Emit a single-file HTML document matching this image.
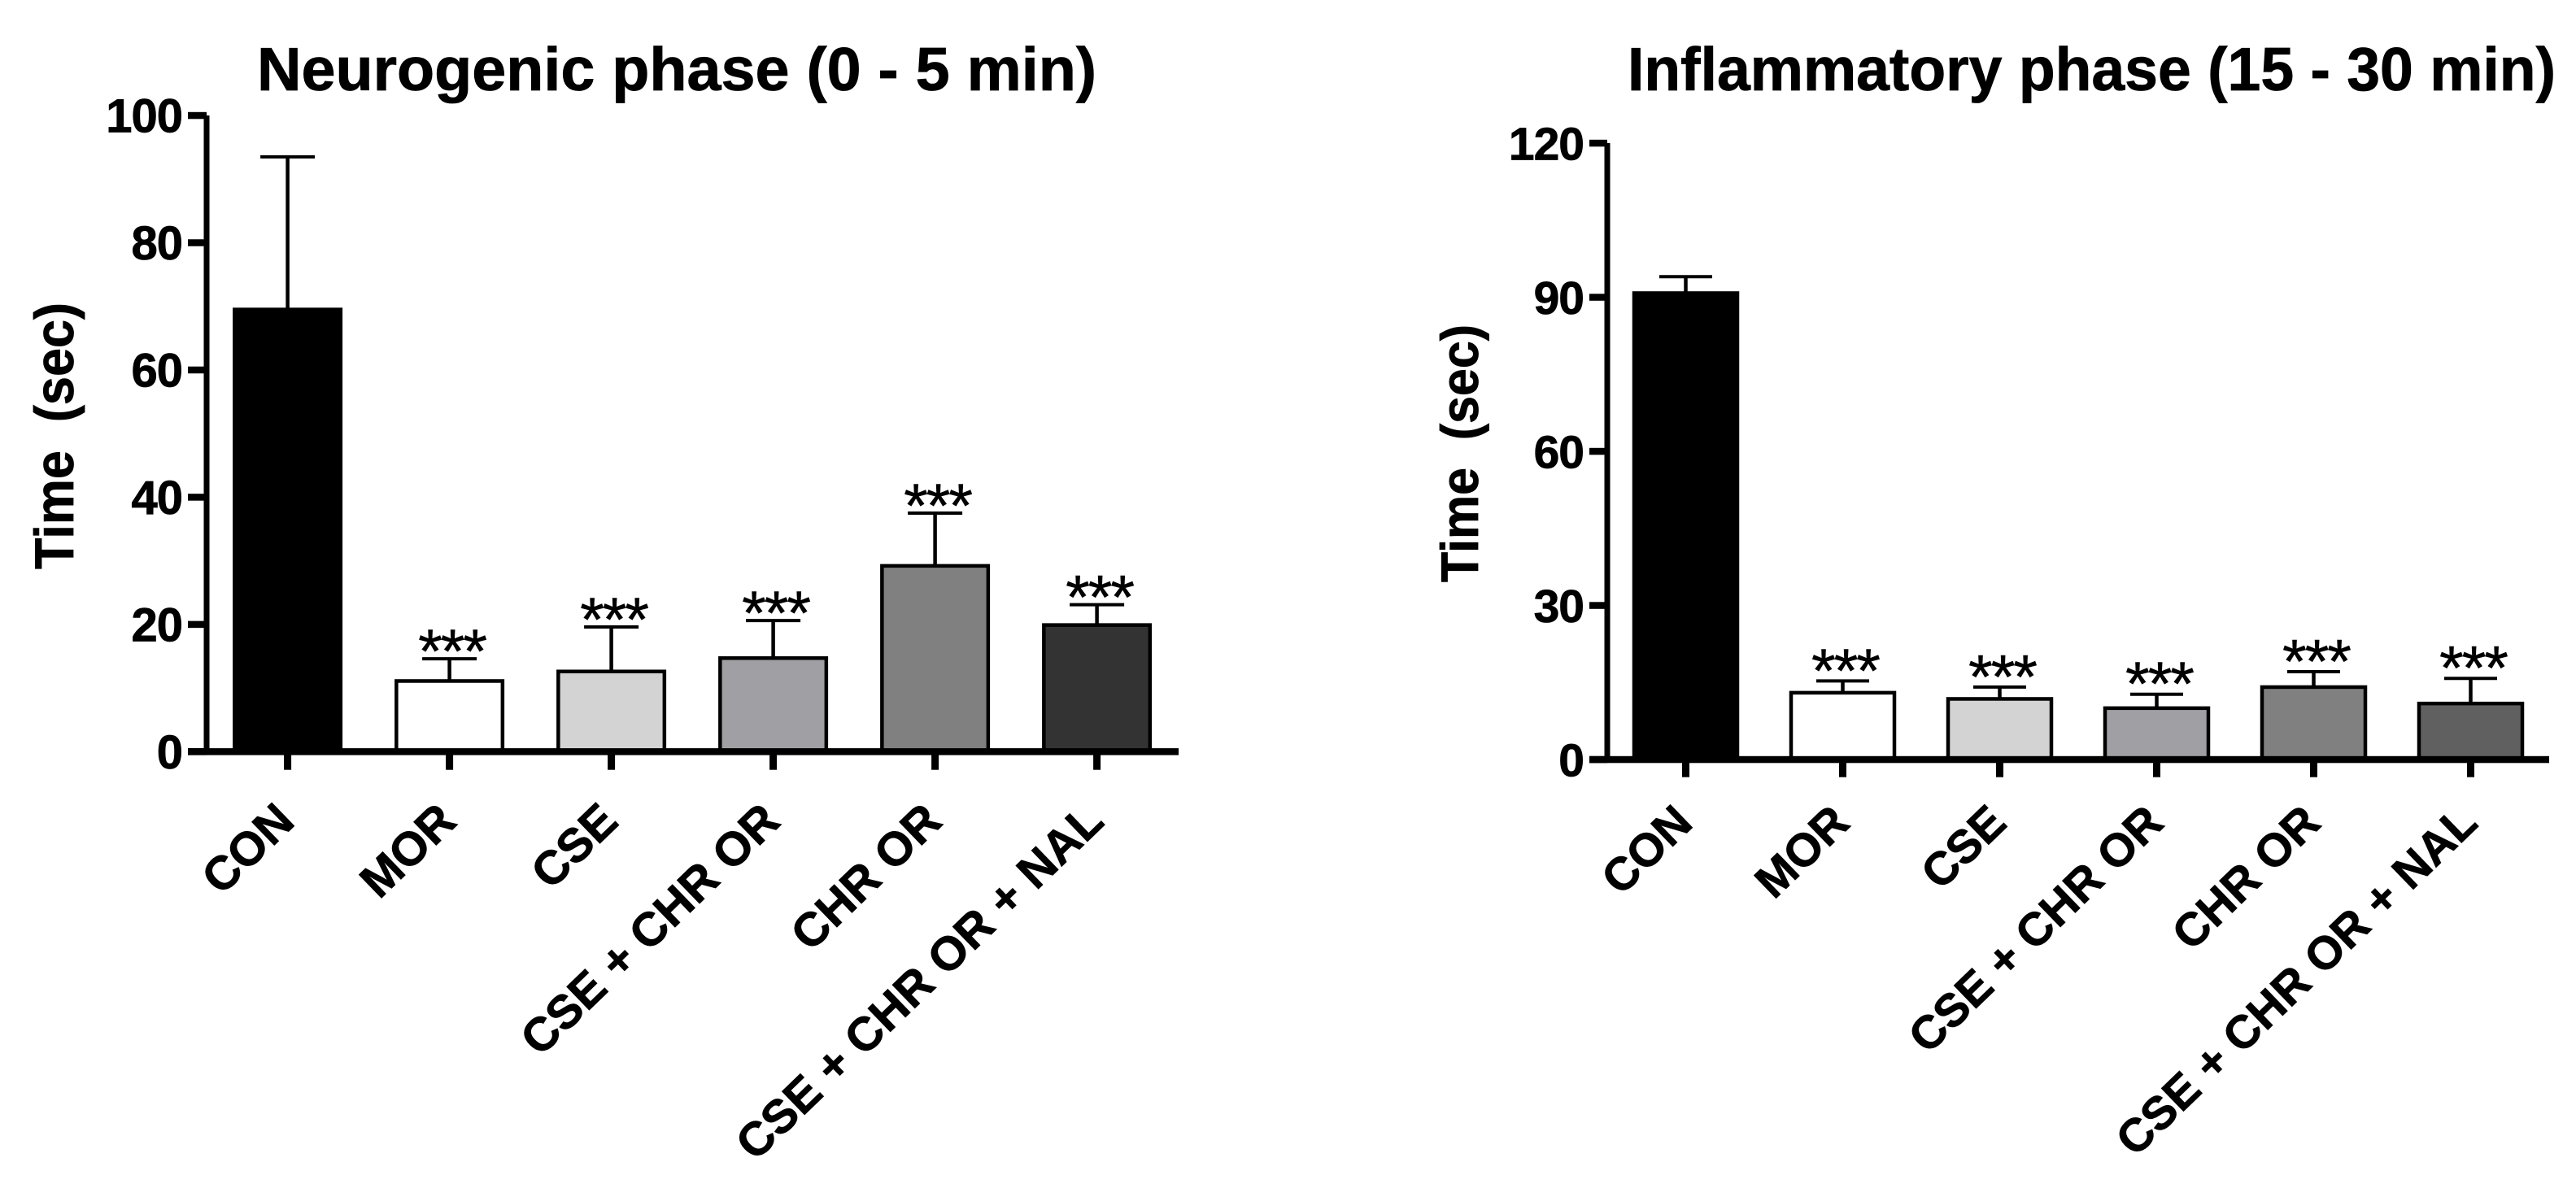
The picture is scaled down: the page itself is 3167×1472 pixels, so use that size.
<!DOCTYPE html>
<html lang="en">
<head>
<meta charset="utf-8">
<title>Neurogenic and inflammatory phase bar charts</title>
<style>
  html, body { margin: 0; padding: 0; background: #fff; }
  svg { display: block; position: absolute; left: 0; top: 0; }
  text { font-family: "Liberation Sans", Arial, sans-serif; fill: #000; white-space: pre; }
  .bold { font-weight: 700; stroke: #000; stroke-width: 0.8; }
  .stars { stroke: #000; stroke-width: 0.6; }
</style>
</head>
<body>
<svg id="figure" xmlns="http://www.w3.org/2000/svg" width="3167" height="1472" viewBox="0 0 3167 1472">
  <rect x="0" y="0" width="3167" height="1472" fill="#fff"/>
  <text class="bold" x="316" y="111" font-size="75" textLength="1032" lengthAdjust="spacingAndGlyphs">Neurogenic phase (0 - 5 min)</text>
  <text class="bold" x="2001" y="111" font-size="75" textLength="1141" lengthAdjust="spacingAndGlyphs">Inflammatory phase (15 - 30 min)</text>
  <text class="bold" font-size="68" transform="translate(90 700) rotate(-90)" textLength="328" lengthAdjust="spacingAndGlyphs">Time  (sec)</text>
  <text class="bold" font-size="65" transform="translate(1817 716) rotate(-90)" textLength="317" lengthAdjust="spacingAndGlyphs">Time  (sec)</text>
  <g id="neurogenic-chart"></g>
  <g id="inflammatory-chart"></g>
</svg>
<script>
const categories = ["CON", "MOR", "CSE", "CSE + CHR OR", "CHR OR", "CSE + CHR OR + NAL"];
const significance = ["", "***", "***", "***", "***", "***"];

const neurogenicTicks = [0, 20, 40, 60, 80, 100];
const neurogenicValues = [69.5, 11.1, 12.6, 14.7, 29.2, 19.9];
const neurogenicUpperErrors = [93.5, 14.6, 19.6, 20.6, 37.5, 23.1];
const neurogenicFills = ["#000000", "#ffffff", "#d3d3d3", "#a0a0a4", "#808080", "#333333"];

const inflammatoryTicks = [0, 30, 60, 90, 120];
const inflammatoryValues = [90.8, 13.0, 11.8, 10.0, 14.1, 10.9];
const inflammatoryUpperErrors = [94.0, 15.3, 14.1, 12.7, 17.1, 15.8];
const inflammatoryFills = ["#000000", "#ffffff", "#d3d3d3", "#a0a0a4", "#808080", "#606060"];

const SVG_NS = "http://www.w3.org/2000/svg";

function make(tag, attrs, parent) {
  const node = document.createElementNS(SVG_NS, tag);
  for (const key in attrs) node.setAttribute(key, attrs[key]);
  parent.appendChild(node);
  return node;
}

function slug(text) {
  return text.toLowerCase().replace(/[^a-z0-9]+/g, "-").replace(/^-|-$/g, "");
}

function drawChart(opts) {
  const root = document.getElementById(opts.rootId);
  const yMax = opts.ticks[opts.ticks.length - 1];
  const yScale = function (v) { return opts.y0 + (opts.yTop - opts.y0) * (v / yMax); };
  const xScale = function (i) { return opts.x0 + i * opts.step; };
  const prefix = opts.prefix;

  opts.values.forEach(function (value, i) {
    const cx = xScale(i);
    const top = yScale(value);
    const capY = yScale(opts.errors[i]);
    const key = slug(categories[i]);

    const whisker = make("line", { x1: cx, x2: cx, y1: top, y2: capY, stroke: "#000", "stroke-width": 4.5 }, root);
    
    

    const cap = make("line", { x1: cx - opts.capW / 2, x2: cx + opts.capW / 2, y1: capY, y2: capY, stroke: "#000", "stroke-width": 4 }, root);
    
    

    const inner = opts.barW - 4.5;
    const bar = make("rect", { x: cx - inner / 2, y: top, width: inner, height: opts.y0 - top, fill: opts.fills[i], stroke: "#000", "stroke-width": 4.5 }, root);
    
    

    if (significance[i]) {
      const stars = make("text", { x: cx + 3, y: capY - opts.starGap + 28.4, "font-size": 76, "text-anchor": "middle", "letter-spacing": "-2" }, root);
      stars.setAttribute("class", "stars");
      stars.textContent = significance[i];
      
      
    }

    const tick = make("rect", { x: cx - 4.5, y: opts.y0, width: 9, height: opts.xTickEnd - opts.y0, fill: "#000" }, root);
    
    

    const ax = cx + 11;
    const ay = opts.labelY;
    const label = make("text", { x: ax, y: ay, "font-size": opts.labelSize, "text-anchor": "end", transform: "rotate(-44 " + ax + " " + ay + ")" }, root);
    label.setAttribute("class", "bold");
    label.textContent = categories[i];
    
    
  });

  const yAxis = make("rect", { x: opts.axisX - 3.5, y: yScale(yMax), width: 7, height: opts.y0 - yScale(yMax), fill: "#000" }, root);
  
  

  const xAxis = make("rect", { x: opts.tickLeft, y: opts.y0 - 4.2, width: opts.xEnd - opts.tickLeft, height: 8.5, fill: "#000" }, root);
  
  

  opts.ticks.forEach(function (t) {
    const y = yScale(t);
    const tick = make("rect", { x: opts.tickLeft, y: y - 4.2, width: opts.axisX - opts.tickLeft, height: 8.5, fill: "#000" }, root);
    
    

    const label = make("text", { x: opts.tickLabelX, y: y + 20.5, "font-size": opts.tickSize, "text-anchor": "end", "letter-spacing": "-1" }, root);
    label.setAttribute("class", "bold");
    label.textContent = String(t);
    
    
  });
}

drawChart({
  rootId: "neurogenic-chart", prefix: "neurogenic",
  ticks: neurogenicTicks, values: neurogenicValues, errors: neurogenicUpperErrors, fills: neurogenicFills,
  x0: 353.6, step: 199, y0: 924.3, yTop: 142, axisX: 254, tickLeft: 231, xEnd: 1449,
  xTickEnd: 946.7, barW: 135, capW: 67, starGap: 11.5, labelY: 1013, labelSize: 58, tickLabelX: 224, tickSize: 58
});

drawChart({
  rootId: "inflammatory-chart", prefix: "inflammatory",
  ticks: inflammatoryTicks, values: inflammatoryValues, errors: inflammatoryUpperErrors, fills: inflammatoryFills,
  x0: 2072.5, step: 193, y0: 934, yTop: 176, axisX: 1976, tickLeft: 1954, xEnd: 3134,
  xTickEnd: 955.7, barW: 131.5, capW: 65, starGap: 15, labelY: 1015, labelSize: 57, tickLabelX: 1947, tickSize: 57
});
</script>
</body>
</html>
